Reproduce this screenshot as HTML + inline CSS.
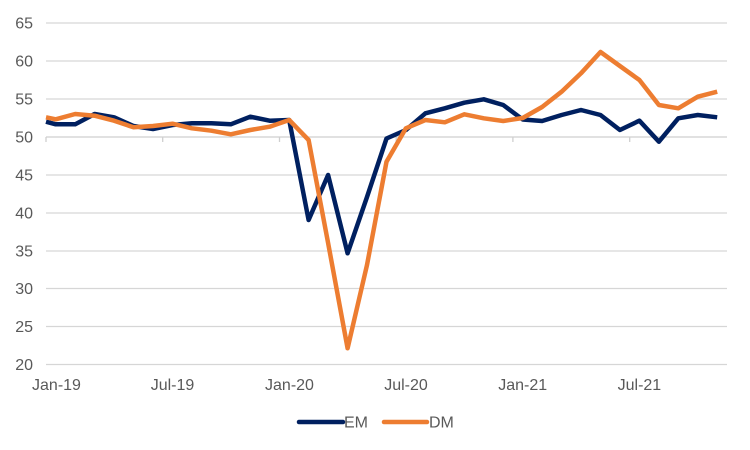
<!DOCTYPE html>
<html>
<head>
<meta charset="utf-8">
<style>
  html, body { margin: 0; padding: 0; background: #ffffff; }
  svg { display: block; }
  text { font-family: "Liberation Sans", Arial, sans-serif; fill: #595959; font-size: 16px; }
</style>
</head>
<body>
<svg width="750" height="450" viewBox="0 0 750 450" xmlns="http://www.w3.org/2000/svg">
  <rect x="0" y="0" width="750" height="450" fill="#ffffff"/>
  <!-- gridlines -->
  <g stroke="#d6d6d6" stroke-width="1.3" fill="none">
    <line x1="46" y1="23" x2="727" y2="23"/>
    <line x1="46" y1="61" x2="727" y2="61"/>
    <line x1="46" y1="99" x2="727" y2="99"/>
    <line x1="46" y1="175" x2="727" y2="175"/>
    <line x1="46" y1="213" x2="727" y2="213"/>
    <line x1="46" y1="251" x2="727" y2="251"/>
    <line x1="46" y1="288.5" x2="727" y2="288.5"/>
    <line x1="46" y1="326.5" x2="727" y2="326.5"/>
    <line x1="46" y1="364.5" x2="727" y2="364.5"/>
  </g>
  <!-- category axis at 50 with ticks -->
  <g stroke="#cfcfcf" stroke-width="1.3" fill="none">
    <line x1="46" y1="137" x2="727" y2="137"/>
    <line x1="46" y1="137" x2="46" y2="142"/>
    <line x1="162.7" y1="137" x2="162.7" y2="142"/>
    <line x1="279.5" y1="137" x2="279.5" y2="142"/>
    <line x1="396.2" y1="137" x2="396.2" y2="142"/>
    <line x1="512.9" y1="137" x2="512.9" y2="142"/>
    <line x1="629.7" y1="137" x2="629.7" y2="142"/>
  </g>
  <!-- y labels -->
  <g text-anchor="end">
    <text x="33" y="28.7">65</text>
    <text x="33" y="66.7">60</text>
    <text x="33" y="104.7">55</text>
    <text x="33" y="142.7">50</text>
    <text x="33" y="180.7">45</text>
    <text x="33" y="218.7">40</text>
    <text x="33" y="256.7">35</text>
    <text x="33" y="294.2">30</text>
    <text x="33" y="332.2">25</text>
    <text x="33" y="370.2">20</text>
  </g>
  <!-- x labels -->
  <g text-anchor="middle">
    <text x="56.5" y="390">Jan-19</text>
    <text x="172.5" y="390">Jul-19</text>
    <text x="289.5" y="390">Jan-20</text>
    <text x="406" y="390">Jul-20</text>
    <text x="522.7" y="390">Jan-21</text>
    <text x="639.4" y="390">Jul-21</text>
  </g>
  <!-- EM series -->
  <polyline fill="none" stroke="#002060" stroke-width="4.5" stroke-linejoin="round" stroke-linecap="butt"
    points="46,121.7 55.7,124.3 75.2,124.3 94.6,114 114.1,117.3 133.5,126 153,129 172.5,125 191.9,123.3 211.4,123.3 230.8,124.3 250.3,116.7 269.7,120.7 289.2,120 308.6,220 328.1,175 347.6,253.3 367,197 386.5,138.5 405.9,130 425.4,113.3 444.8,108.3 464.3,102.7 483.8,99.3 503.2,105 522.7,119.5 542.1,121 561.6,115 581,110 600.5,115 619.9,130 639.4,120.7 658.9,141.7 678.3,118.3 697.8,115 717.2,117.3"/>
  <!-- DM series -->
  <polyline fill="none" stroke="#ed7d31" stroke-width="4.5" stroke-linejoin="round" stroke-linecap="butt"
    points="46,117.3 55.7,119.3 75.2,114 94.6,115.7 114.1,120.7 133.5,127.3 153,126 172.5,123.7 191.9,128.3 211.4,130.7 230.8,134.3 250.3,130 269.7,126.7 289.2,120 308.6,140 328.1,243 347.6,348.3 367,265 386.5,161.7 405.9,128.3 425.4,120 444.8,122.3 464.3,114.3 483.8,118.3 503.2,121 522.7,118 542.1,107 561.6,91.7 581,73.3 600.5,52 619.9,66 639.4,80 658.9,105 678.3,108.3 697.8,96.7 717.2,91.7"/>
  <!-- legend -->
  <line x1="299" y1="422" x2="343" y2="422" stroke="#002060" stroke-width="4.5" stroke-linecap="round"/>
  <text x="344" y="427.7">EM</text>
  <line x1="384" y1="422" x2="427" y2="422" stroke="#ed7d31" stroke-width="4.5" stroke-linecap="round"/>
  <text x="429" y="427.7">DM</text>
</svg>
</body>
</html>
